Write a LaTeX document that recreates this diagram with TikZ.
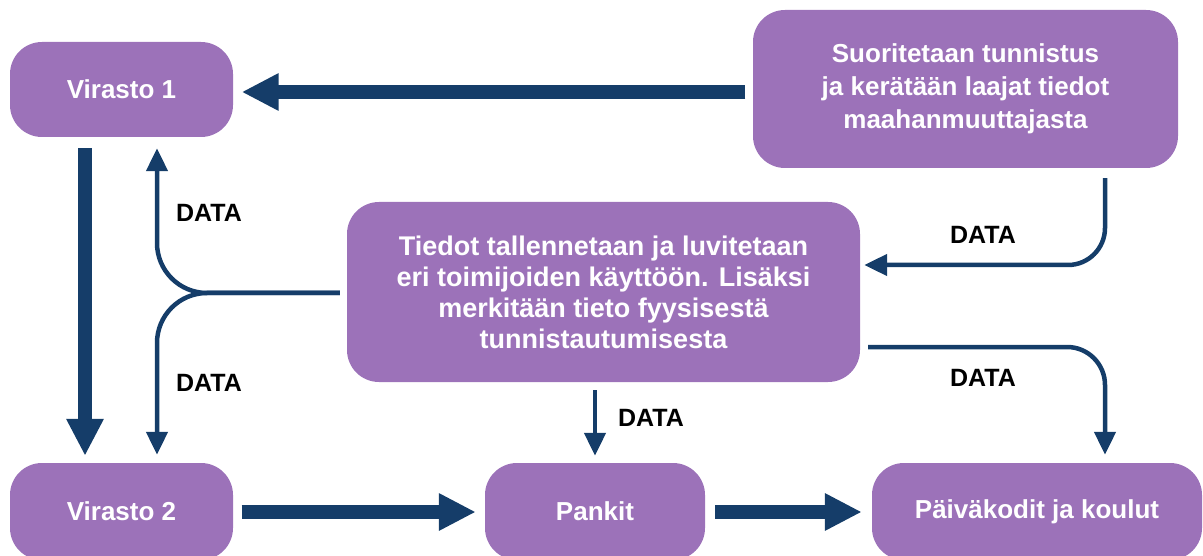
\documentclass[tikz,border=0pt]{standalone}
\usepackage{fontspec}
\setmainfont{Liberation Sans}
\usetikzlibrary{arrows.meta,calc}
\definecolor{boxpurple}{RGB}{156,114,185}
\definecolor{navy}{RGB}{21,61,105}
\begin{document}
\begin{tikzpicture}[x=1pt,y=-1pt,
  box/.style={fill=boxpurple, rounded corners=32pt, text=white, align=center,
    font=\bfseries\fontsize{26}{31}\selectfont, inner sep=0pt},
  bigarrow/.style={draw=navy, line width=14pt, -{Triangle[length=37pt,width=35pt]}},
  thinarrow/.style={draw=navy, line width=4.5pt, -{Triangle[length=23pt,width=21pt]}},
  datalabel/.style={font=\bfseries\fontsize{25}{28}\selectfont, text=black, inner sep=0pt}
]
\useasboundingbox (0,0) rectangle (1203,556);
% boxes
\node[box, minimum width=223pt, minimum height=95pt] (v1) at (121.5,89.5) {Virasto 1};
\node[box, minimum width=425pt, minimum height=158pt, font=\bfseries\fontsize{26}{33}\selectfont] (sr) at (965.5,89) {Suoritetaan tunnistus\\ja kerätään laajat tiedot\\maahanmuuttajasta};
\node[box, minimum width=513pt, minimum height=180pt, font=\bfseries\fontsize{27}{31}\selectfont] (td) at (603.5,292) {Tiedot tallennetaan ja luvitetaan\\eri toimijoiden käyttöön. Lisäksi\\merkitään tieto fyysisestä\\tunnistautumisesta};
\node[box, minimum width=223pt, minimum height=97pt] (v2) at (121.5,511.5) {Virasto 2};
\node[box, minimum width=220pt, minimum height=97pt] (pk) at (595,511.5) {Pankit};
\node[box, minimum width=330pt, minimum height=97pt] (pv) at (1037,511.5) {Päiväkodit ja koulut};
% big arrows
\draw[bigarrow] ($(sr.west)+(-7.5,3)$) -- ($(v1.east)+(8.5,2.5)$);
\draw[bigarrow] ($(v1.south)+(-36.5,11)$) -- ($(v2.north)+(-36.5,-7)$);
\draw[bigarrow] ($(v2.east)+(8.5,0.5)$) -- ($(pk.west)+(-9,0.5)$);
\draw[bigarrow] ($(pk.east)+(10,0.5)$) -- ($(pv.west)+(-10,0.5)$);
% thin data arrows
\coordinate (c1) at (1105,265);
\coordinate (c2) at (1105,347);
\coordinate (c3) at (157,293);
\draw[thinarrow, rounded corners=37pt] ($(sr.south)+(139.5,10)$) -- (c1) -- ($(td.east)+(4,-27)$);
\draw[thinarrow, rounded corners=38pt] ($(td.east)+(8,55)$) -- (c2) -- ($(pv.north)+(68,-8)$);
\draw[thinarrow] ($(td.south)+(-8.5,8)$) -- ($(pk.north)+(0,-7)$);
\draw[thinarrow, rounded corners=50pt] ($(td.west)+(-7,1)$) -- (c3) -- ($(v1.south)+(35.5,11)$);
\draw[thinarrow, rounded corners=50pt] ($(td.west)+(-7,1)$) -- (c3) -- ($(v2.north)+(35.5,-8)$);
% labels
\node[datalabel] (d1) at (209,213) {DATA};
\node[datalabel] (d2) at (209,383) {DATA};
\node[datalabel] (d3) at (651,418) {DATA};
\node[datalabel] (d4) at (983,235) {DATA};
\node[datalabel] (d5) at (983,378) {DATA};
\end{tikzpicture}
\end{document}
